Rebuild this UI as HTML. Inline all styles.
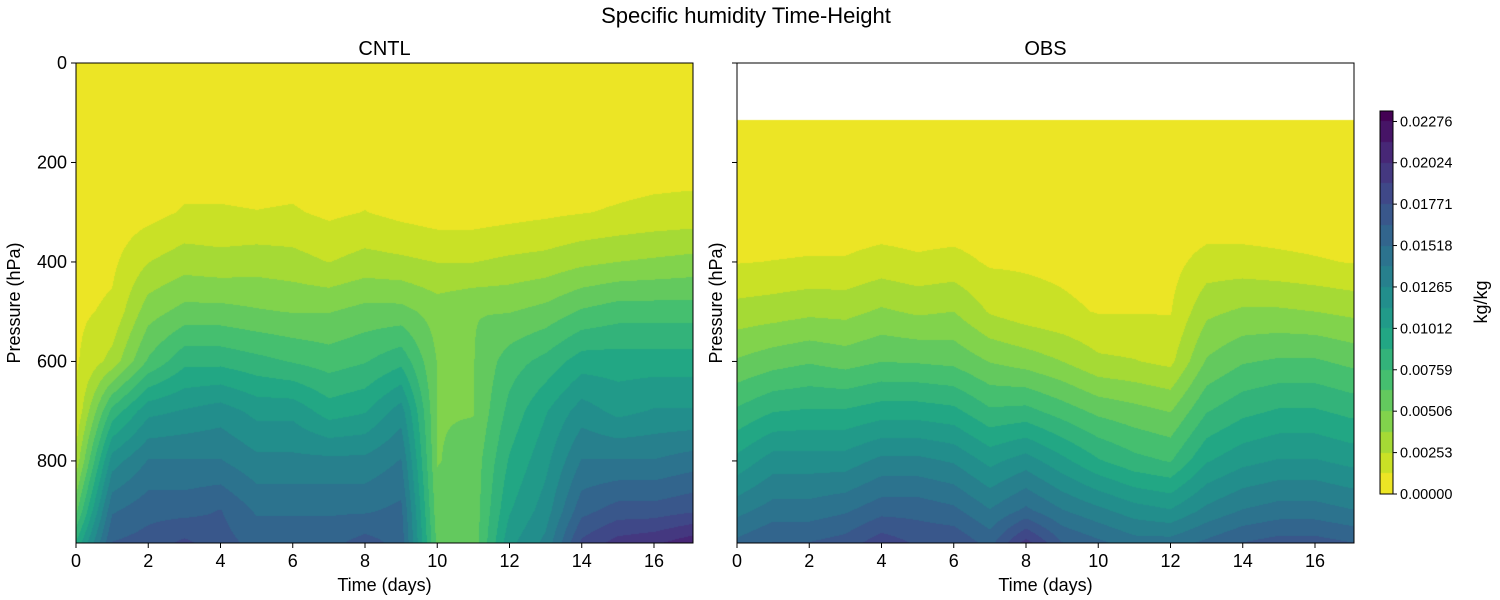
<!DOCTYPE html>
<html><head><meta charset="utf-8">
<style>
body{margin:0;background:#fff;width:1500px;height:600px;overflow:hidden;font-family:"Liberation Sans","DejaVu Sans",sans-serif;}
#wrap{position:relative;width:1500px;height:600px;}
canvas{position:absolute;}
svg{position:absolute;left:0;top:0;}
</style></head><body>
<div id="wrap">
<canvas id="c1" width="617" height="480" style="left:76px;top:63px"></canvas>
<canvas id="c2" width="617" height="480" style="left:737px;top:63px"></canvas>
<canvas id="cb" width="13" height="383" style="left:1380px;top:111px"></canvas>
<svg id="s" width="1500" height="600"></svg>
</div>
<script>
const pressures=[0,150,300,400,500,600,700,800,900,965];
const days=[0,1,2,3,4,5,6,7,8,9,10,11,12,13,14,15,16,17];
const cntlQ=[
[0,0,0,0,0,0,0,0,0,0,0,0,0,0,0,0,0,0],
[0.2,0.2,0.2,0.2,0.2,0.2,0.2,0.2,0.2,0.2,0.2,0.2,0.2,0.2,0.2,0.2,0.2,0.2],
[0.5,0.5,0.8,1.4,1.4,1.3,1.4,1.0,1.3,0.9,0.6,0.6,0.8,1.0,1.2,1.4,1.6,1.7],
[0.8,1.0,2.5,3.2,3.0,3.2,3.0,2.5,3.0,2.8,2.5,2.5,2.8,3.0,3.5,3.8,4.0,4.2],
[1.0,1.5,4.5,5.5,5.5,5.2,5.0,5.0,5.5,5.5,4.5,5.0,5.0,5.5,6.5,7,7,7],
[1.1,3.0,6.5,8.5,8.5,8.0,7.5,7.0,7.5,8.5,5.0,5.0,7.0,8.0,9.5,9.5,9.5,9.5],
[1.4,8,11,11.5,12,11,11,9.5,10,12,5,5,8,10,12,11,11.5,11.5],
[3,12,14,14,14,13,13,13,13,14,5,5.5,9,11,14,14,14,14.5],
[6,15,16,16,16.5,15,15,15,15,15.5,5.5,5.5,10,12,16,17,17,17.5],
[9,16.5,17,18,17,16,16,16,17,16,6,5.5,11,13,18,19.5,20,21]];
const obsQ=[
[0,0,0,0,0,0,0,0,0,0,0,0,0,0,0,0,0,0],
[0.2,0.2,0.2,0.2,0.2,0.2,0.2,0.2,0.2,0.2,0.2,0.2,0.2,0.2,0.2,0.2,0.2,0.2],
[0.3,0.3,0.3,0.3,0.3,0.3,0.3,0.3,0.3,0.3,0.3,0.3,0.3,0.3,0.3,0.3,0.3,0.3],
[1.2,1.3,1.4,1.4,1.8,1.5,1.7,1.1,1.1,1.0,0.8,0.8,0.8,1.8,1.8,1.6,1.4,1.2],
[3.0,3.2,3.5,3.4,4.0,3.6,3.8,2.4,1.8,1.5,1.2,1.2,1.2,3.5,4.0,4.0,3.8,3.5],
[5.2,5.8,6.2,5.8,6.3,6.2,6.0,5.0,4.5,3.8,2.8,2.6,2.2,5.2,6.2,6.5,6.5,6],
[7.8,8.8,9,9,9.5,9.5,9.2,7.8,8,7,6,5.5,5,7.5,8.5,9,9,8.5],
[10.5,12,12,12,13,13,12.5,11,12,10.5,9,8,7.5,10,11,11.5,11.5,11],
[13.5,14.5,14.5,15,16,16,15.5,14,15.5,14,13,12,11.5,13,14,14.5,14.5,14],
[15.5,16.5,16.5,17,18.5,17.5,17.5,16,19.5,16.5,15.5,14.5,14.5,15.5,16.5,17,17,16.5]];
const obsTopP=115;
const cbTicks=["0.00000","0.00253","0.00506","0.00759","0.01012","0.01265","0.01518","0.01771","0.02024","0.02276"];
const xTicks=[0,2,4,6,8,10,12,14,16];
const yTicks=[0,200,400,600,800];

const step=0.0012649, vmax=0.0234;
const vir=["#440154","#482475","#414487","#355f8d","#2a788e","#21918c","#22a884","#44bf70","#7ad151","#bddf26","#fde725"];
function hex(h){return [parseInt(h.slice(1,3),16),parseInt(h.slice(3,5),16),parseInt(h.slice(5,7),16)];}
const VC=vir.map(hex);
function viridis(t){t=Math.max(0,Math.min(1,t));const f=t*10,i=Math.min(9,Math.floor(f)),r=f-i;return VC[i].map((c,k)=>Math.round(c+(VC[i+1][k]-c)*r));}
function bandColor(v){const b=Math.floor(v/step);const mid=(b+0.5)*step;return viridis(1-mid/vmax);}
const xMax=17.08,pMax=965;
function xs(d,w){return d/xMax*w;}
function ys(p,h){return p/pMax*h;}
function interp(Q,d,p){
 let i=0;while(i<days.length-2&&d>days[i+1])i++;
 let j=0;while(j<pressures.length-2&&p>pressures[j+1])j++;
 const tx=Math.max(0,Math.min(1,(d-days[i])/(days[i+1]-days[i])));
 const ty=Math.max(0,Math.min(1,(p-pressures[j])/(pressures[j+1]-pressures[j])));
 const a=Q[j][i],b=Q[j][i+1],c=Q[j+1][i],e=Q[j+1][i+1];
 return ((a*(1-tx)+b*tx)*(1-ty)+(c*(1-tx)+e*tx)*ty)*0.001;
}
function draw(id,Q,topP){
 const cv=document.getElementById(id),ctx=cv.getContext('2d'),W=cv.width,H=cv.height;
 const img=ctx.createImageData(W,H);
 for(let y=0;y<H;y++){const p=(y+0.5)/H*pMax;
  for(let x=0;x<W;x++){const d=(x+0.5)/W*xMax;const o=(y*W+x)*4;
   if(p<topP){img.data[o]=255;img.data[o+1]=255;img.data[o+2]=255;img.data[o+3]=255;continue;}
   const c=bandColor(interp(Q,d,p));img.data[o]=c[0];img.data[o+1]=c[1];img.data[o+2]=c[2];img.data[o+3]=255;}}
 ctx.putImageData(img,0,0);
}
draw('c1',cntlQ,0);draw('c2',obsQ,obsTopP);
(function(){const cv=document.getElementById('cb'),ctx=cv.getContext('2d'),H=cv.height;
 for(let y=0;y<H;y++){const v=(H-y-0.5)/H*vmax;const c=bandColor(v);ctx.fillStyle=`rgb(${c[0]},${c[1]},${c[2]})`;ctx.fillRect(0,y,13,1);}})();

const svg=document.getElementById('s');const NS="http://www.w3.org/2000/svg";
function el(tag,attrs,txt){const e=document.createElementNS(NS,tag);for(const k in attrs)e.setAttribute(k,attrs[k]);if(txt!==undefined)e.textContent=txt;svg.appendChild(e);return e;}
let t=el('text',{x:746,y:23,'font-size':22,'text-anchor':'middle'},'Specific humidity Time-Height');

function panel(x0,name,title,ylabels){
 const W=617,H=480,y0=63;
 let r=el('rect',{x:x0,y:y0,width:W,height:H,fill:'none',stroke:'#000','stroke-width':1});
 
 let tt=el('text',{x:x0+W/2,y:y0-8,'font-size':20,'text-anchor':'middle'},title);
 
 xTicks.forEach(v=>{const x=x0+xs(v,W);
  el('line',{x1:x,x2:x,y1:y0+H,y2:y0+H+5,stroke:'#000'});
  let l=el('text',{x:x,y:y0+H+24,'font-size':18,'text-anchor':'middle'},v);
  });
 yTicks.forEach(v=>{const y=y0+ys(v,H);
  el('line',{x1:x0-5,x2:x0,y1:y,y2:y,stroke:'#000'});
  if(ylabels){let l=el('text',{x:x0-9,y:y+6,'font-size':18,'text-anchor':'end'},v);
  }});
 let xl=el('text',{x:x0+W/2,y:591,'font-size':18,'text-anchor':'middle'},'Time (days)');
 
 const yx=ylabels?20:722;
 let yl=el('text',{x:yx,y:y0+H/2,'font-size':18,'text-anchor':'middle',transform:`rotate(-90 ${yx} ${y0+H/2})`},'Pressure (hPa)');
 
}
panel(76,'cntl','CNTL',true);panel(737,'obs','OBS',false);
let cbr=el('rect',{x:1380,y:111,width:13,height:383,fill:'none',stroke:'#000','stroke-width':1});

cbTicks.forEach((s,i)=>{const v=parseFloat(s);const y=111+383-v/vmax*383;
 el('line',{x1:1393,x2:1397,y1:y,y2:y,stroke:'#000'});
 let l=el('text',{x:1400,y:y+5,'font-size':14.5},s);
 });
let cl=el('text',{x:1487,y:302,'font-size':18,'text-anchor':'middle',transform:'rotate(-90 1487 302)'},'kg/kg');

</script>
</body></html>
